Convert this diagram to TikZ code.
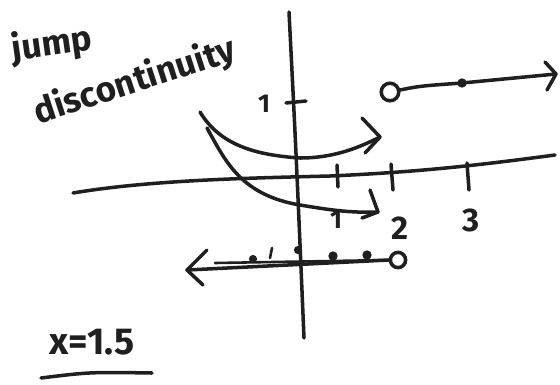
\documentclass[tikz,border=0pt]{standalone}
\usepackage{fontspec}
\setmainfont{Fira Sans}
\begin{document}
\begin{tikzpicture}[x=0.03cm,y=-0.03cm, line cap=round, line join=round,
  ink/.style={line width=3pt, draw=black!88},
  thin ink/.style={line width=2.2pt, draw=black!88},
  lbl/.style={inner sep=0pt, text=black!88},
  fs/.style={font=\fontsize{#1}{#1}\selectfont\bfseries}]
\useasboundingbox (0,0) rectangle (560,384);
% y-axis
\coordinate (ytop) at (289,12);
\coordinate (ybot) at (304,338);
\draw[ink] (ytop) .. controls (296,150) .. (ybot);
% x-axis
\coordinate (xl) at (73,193);
\coordinate (xm) at (330,176);
\coordinate (xr) at (555,155);
\draw[ink] (xl) .. controls (150,180) and (250,178) .. (xm) .. controls (420,172) and (480,165) .. (xr);
% ticks
\draw[ink] (286,103) -- (306,101);
\draw[ink] (337,165) -- (338,187);
\draw[ink] (391,164) -- (393,190);
\draw[ink] (467,163) -- (469,190);
% labels
\node[lbl, fs=22] (one) at (264,104) {1};
\node[lbl, fs=28] (two) at (400,228) {2};
\node[lbl, fs=28] (three) at (471,220) {3};
\node[lbl, fs=22] (oneb) at (336,220) {1};
% parabola branch
\coordinate (ps) at (200,112);
\coordinate (pe) at (380,137);
\draw[ink] (ps) .. controls (220,145) and (255,155) .. (300,158) .. controls (335,158) and (360,147) .. (pe);
\draw[ink] (362,118) -- (pe) -- (365,153);
% second branch
\coordinate (qs) at (207,128);
\coordinate (qe) at (378,212);
\draw[ink] (qs) .. controls (225,160) and (240,195) .. (300,205) .. controls (330,210) and (350,213) .. (qe);
\draw[ink] (370,190) -- (qe) -- (362,218);
% top right ray
\node[ink, circle, minimum size=15pt, inner sep=0pt] (oc) at (390,92) {};
\coordinate (fd) at (462,83);
\fill[black!88] (fd) circle (4pt);
\coordinate (re) at (556,74);
\draw[ink] (oc) .. controls (420,86) .. (fd) -- (re);
\draw[ink] (545,62) -- (re) -- (547,90);
% bottom number line
\node[ink, circle, minimum size=13pt, inner sep=0pt] (oc2) at (398,260) {};
\coordinate (le) at (187,270);
\coordinate (ue) at (215,263);
\draw[ink] (oc2.west) -- (le);
\draw[thin ink] (ue) -- (oc2.west);
\draw[ink] (207,250) -- (le) -- (203,285);
\fill[black!88] (253,259) circle (3.5pt);
\fill[black!88] (298,250) circle (3.5pt);
\fill[black!88] (333,256) circle (4pt);
\fill[black!88] (367,255) circle (4pt);
\draw[thin ink] (272,248) -- (270,258);
% text
\node[lbl, fs=30, rotate=8] (jump) at (52,45) {jump};
\node[lbl, fs=30, rotate=18] (disc) at (135,82) {discontinuity};
\node[lbl, fs=32] (xeq) at (92,342) {x=1.5};
\draw[ink] (41,378) .. controls (90,372) .. (152,373);
\end{tikzpicture}
\end{document}
